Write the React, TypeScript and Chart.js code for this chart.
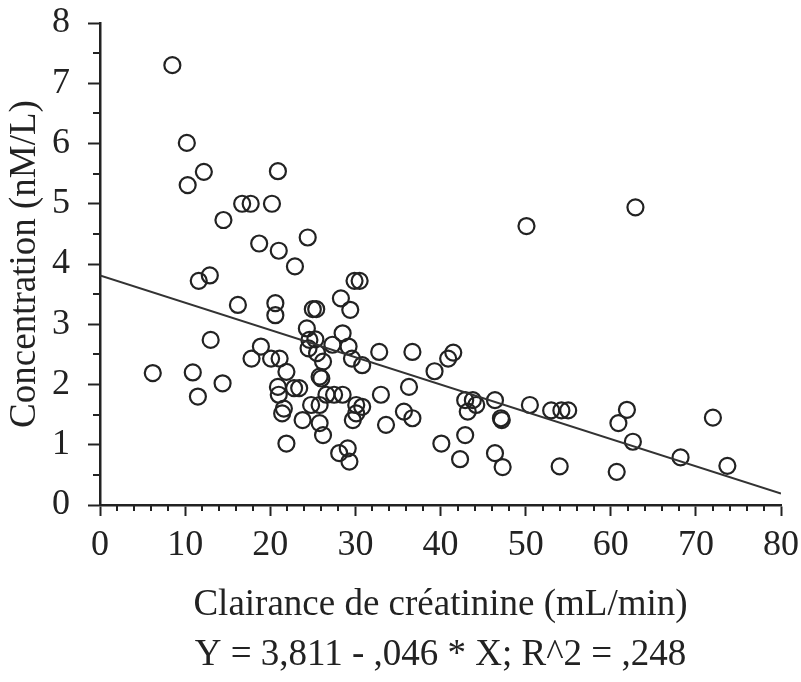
import React, { useEffect, useRef } from 'react';
import { Chart, registerables } from 'chart.js';

Chart.register(...registerables);

// Clairance de créatinine (mL/min)
const CLEARANCE = [
  6.2, 8.5, 10.2, 10.3, 10.9, 11.5, 11.6, 12.2, 12.9, 13.0,
  14.4, 14.5, 16.2, 16.7, 17.7, 17.8, 18.7, 18.9, 20.1, 20.2,
  20.6, 20.6, 20.9, 20.9, 21.0, 21.0, 21.1, 21.4, 21.6, 21.9,
  21.9, 22.8, 22.9, 23.4, 23.8, 24.3, 24.4, 24.5, 24.6, 24.8,
  25.0, 25.3, 25.4, 25.5, 25.8, 25.8, 25.8, 26.0, 26.2, 26.2,
  26.6, 27.3, 27.5, 28.1, 28.3, 28.5, 28.5, 29.1, 29.2, 29.3,
  29.4, 29.6, 29.7, 29.9, 30.1, 30.1, 30.5, 30.8, 30.8, 32.8,
  33.0, 33.6, 35.7, 36.3, 36.7, 36.7, 39.3, 40.1, 40.9, 41.5,
  42.3, 42.9, 42.9, 43.2, 43.8, 44.2, 46.4, 46.4, 47.1, 47.2,
  47.3, 50.1, 50.5, 53.0, 54.0, 54.2, 55.0, 60.7, 60.9, 61.9,
  62.6, 62.9, 68.2, 72.0, 73.7,
];

// Concentration (nM/L)
const CONCENTRATION = [
  2.19, 7.3, 6.01, 5.31, 2.2, 1.8, 3.72, 5.53, 3.81, 2.74,
  2.02, 4.73, 3.32, 5.0, 5.0, 2.43, 4.34, 2.63, 2.43, 5.0,
  3.35, 3.15, 5.54, 1.96, 4.22, 1.83, 2.43, 1.52, 1.6, 2.21,
  1.02, 1.94, 3.96, 1.94, 1.41, 2.93, 4.44, 2.6, 2.74, 1.66,
  3.25, 2.75, 3.25, 2.52, 2.13, 1.66, 1.36, 2.1, 2.38, 1.16,
  1.83, 2.66, 1.83, 0.86, 3.43, 2.85, 1.83, 0.94, 2.63, 0.72,
  3.24, 2.43, 1.41, 3.72, 1.66, 1.52, 3.72, 2.32, 1.63, 2.54,
  1.83, 1.33, 1.55, 1.96, 2.54, 1.44, 2.22, 1.02, 2.43, 2.53,
  0.76, 1.74, 1.16, 1.55, 1.74, 1.66, 1.74, 0.86, 1.44, 1.41,
  0.63, 4.63, 1.66, 1.57, 0.64, 1.57, 1.57, 0.55, 1.36, 1.58,
  1.05, 4.94, 0.79, 1.45, 0.65,
];

// Regression line endpoints as drawn
const FIT_X = [0, 80];
const FIT_Y = [3.81, 0.19];

const X_TITLE = 'Clairance de créatinine (mL/min)';
const EQUATION = 'Y = 3,811 - ,046 * X; R^2 = ,248';
const Y_TITLE = 'Concentration (nM/L)';

const X_MIN = 0, X_MAX = 80, X_STEP = 10, X_MINOR = 2;
const Y_MIN = 0, Y_MAX = 8, Y_STEP = 1, Y_MINOR = 0.5;

const INK = '#222222';
const FONT = "'Liberation Serif', 'Times New Roman', serif";

const minorTicks = {
  id: 'minorTicks',
  afterDraw(chart: any) {
    const { ctx, chartArea } = chart;
    const xs = chart.scales.x;
    const ys = chart.scales.y;
    ctx.save();
    ctx.strokeStyle = INK;
    ctx.lineWidth = 2;
    ctx.beginPath();
    for (let v = xs.min; v <= xs.max + 1e-9; v += X_MINOR) {
      if (Math.abs(v % X_STEP) < 1e-6) continue;
      const px = Math.round(xs.getPixelForValue(v));
      ctx.moveTo(px, chartArea.bottom);
      ctx.lineTo(px, chartArea.bottom + 6);
    }
    for (let v = ys.min; v <= ys.max + 1e-9; v += Y_MINOR) {
      if (Math.abs(v % Y_STEP) < 1e-6) continue;
      const py = Math.round(ys.getPixelForValue(v));
      ctx.moveTo(chartArea.left, py);
      ctx.lineTo(chartArea.left - 7, py);
    }
    ctx.stroke();
    ctx.restore();
  },
};

export default function App() {
  const canvasRef = useRef<HTMLCanvasElement | null>(null);

  useEffect(() => {
    document.body.style.margin = '0';
    const canvas = canvasRef.current;
    if (!canvas) return;
    const points = CLEARANCE.map((x, i) => ({ x, y: CONCENTRATION[i] }));
    const fit = FIT_X.map((x, i) => ({ x, y: FIT_Y[i] }));

    const chart = new Chart(canvas, {
      type: 'scatter',
      data: {
        datasets: [
          {
            type: 'line',
            data: fit,
            borderColor: '#333333',
            borderWidth: 2.2,
            pointRadius: 0,
            fill: false,
            tension: 0,
          } as any,
          {
            data: points,
            pointStyle: 'circle',
            pointRadius: 8,
            pointBorderWidth: 2.2,
            pointBorderColor: INK,
            pointBackgroundColor: 'rgba(0,0,0,0)',
            borderColor: INK,
            backgroundColor: 'rgba(0,0,0,0)',
            showLine: false,
          } as any,
        ],
      },
      options: {
        responsive: false,
        animation: false,
        layout: { padding: { top: 23, right: 20, left: 0, bottom: 0 } },
        plugins: {
          legend: { display: false },
          tooltip: { enabled: false },
        },
        scales: {
          x: {
            type: 'linear',
            min: X_MIN,
            max: X_MAX,
            afterFit: (s: any) => {
              s.height = 177;
              s.paddingLeft = 0;
              s.paddingRight = 0;
            },
            ticks: {
              stepSize: X_STEP,
              color: INK,
              font: { family: FONT, size: 36 },
              padding: 8,
              maxRotation: 0,
            },
            grid: {
              drawOnChartArea: false,
              drawTicks: true,
              tickLength: 11,
              tickWidth: 2,
              tickColor: INK,
            },
            border: { display: true, color: INK, width: 2.5 },
            title: {
              display: true,
              text: [X_TITLE, EQUATION],
              color: INK,
              font: { family: FONT, size: 37, lineHeight: 50 / 37 },
              padding: { top: 0, bottom: 2 },
            },
          },
          y: {
            type: 'linear',
            min: Y_MIN,
            max: Y_MAX,
            afterFit: (s: any) => {
              s.width = 100;
              s.paddingTop = 0;
              s.paddingBottom = 0;
            },
            ticks: {
              stepSize: Y_STEP,
              color: INK,
              font: { family: FONT, size: 36 },
              padding: 18,
            },
            grid: {
              drawOnChartArea: false,
              drawTicks: true,
              tickLength: 12,
              tickWidth: 2,
              tickColor: INK,
            },
            border: { display: true, color: INK, width: 2.5 },
            title: {
              display: true,
              text: Y_TITLE,
              color: INK,
              font: { family: FONT, size: 37 },
              padding: { top: 3, bottom: 0 },
            },
          },
        },
      },
      plugins: [minorTicks],
    });

    return () => chart.destroy();
  }, []);

  return (
    <div style={{ width: 801, height: 682, background: '#ffffff' }}>
      <canvas ref={canvasRef} width={801} height={682} style={{ display: 'block' }} />
    </div>
  );
}
